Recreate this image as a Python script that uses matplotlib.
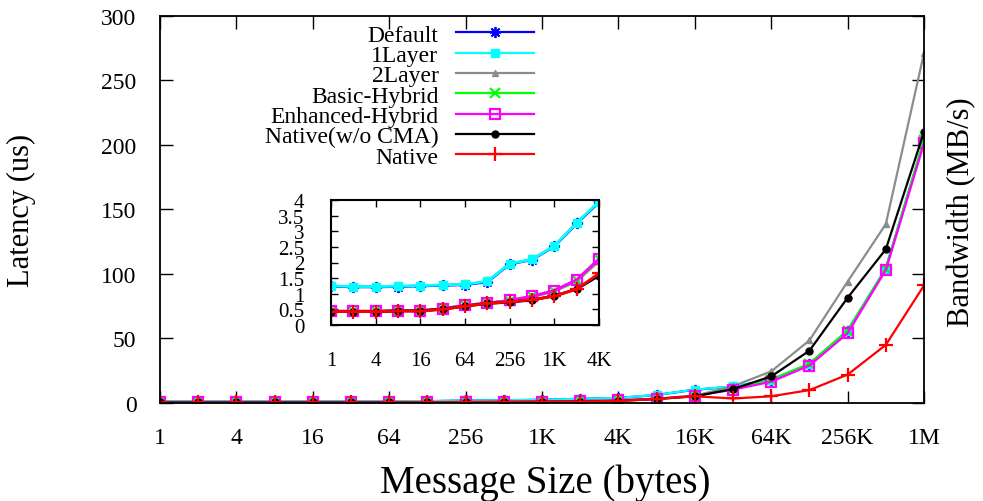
import matplotlib
matplotlib.use('Agg')
import matplotlib.pyplot as plt

plt.rcParams['font.family'] = ['Liberation Serif', 'DejaVu Serif']

# ---- data ----
sizes = [1, 2, 4, 8, 16, 32, 64, 128, 256, 512, 1024, 2048, 4096, 8192,
         16384, 32768, 65536, 131072, 262144, 524288, 1048576]
tick_vals = [1, 4, 16, 64, 256, 1024, 4096, 16384, 65536, 262144, 1048576]
tick_labels = ['1', '4', '16', '64', '256', '1K', '4K', '16K', '64K', '256K', '1M']
inset_tick_vals = [1, 4, 16, 64, 256, 1024, 4096]
inset_tick_labels = ['1', '4', '16', '64', '256', '1K', '4K']
inset_yticks = [0, 0.5, 1, 1.5, 2, 2.5, 3, 3.5, 4]
inset_ylabels = ['0', '0.5', '1', '1.5', '2', '2.5', '3', '3.5', '4']

default = [1.24, 1.22, 1.22, 1.23, 1.25, 1.27, 1.29, 1.38, 1.95, 2.09, 2.52, 3.25, 3.93,
           6.2, 10.3, 12.6, 18.0, 30.0, 56.0, 104.0, 203.0]
layer1 = [1.25, 1.23, 1.23, 1.24, 1.26, 1.28, 1.30, 1.40, 1.96, 2.10, 2.53, 3.27, 3.95,
          6.3, 10.4, 12.8, 18.2, 30.2, 56.0, 104.0, 204.0]
layer2 = [0.44, 0.44, 0.44, 0.46, 0.46, 0.52, 0.62, 0.70, 0.77, 0.90, 1.08, 1.40, 2.05,
          3.3, 5.6, 13.0, 24.5, 48.5, 94.0, 138.5, 271.0]
basic = [0.44, 0.44, 0.44, 0.46, 0.46, 0.52, 0.63, 0.70, 0.78, 0.92, 1.10, 1.44, 2.10,
         3.3, 5.6, 10.8, 18.0, 30.5, 56.0, 104.0, 204.0]
enhanced = [0.44, 0.44, 0.44, 0.46, 0.46, 0.52, 0.63, 0.70, 0.79, 0.92, 1.10, 1.45, 2.11,
            3.3, 5.5, 10.3, 16.5, 29.0, 54.0, 103.0, 201.0]
native_nocma = [0.43, 0.43, 0.43, 0.45, 0.45, 0.51, 0.60, 0.69, 0.73, 0.80, 0.93, 1.15, 1.58,
                3.1, 5.2, 10.8, 20.6, 40.5, 81.5, 119.0, 210.0]
native = [0.43, 0.43, 0.43, 0.45, 0.44, 0.50, 0.60, 0.69, 0.74, 0.81, 0.92, 1.15, 1.65,
          3.1, 5.2, 3.5, 5.2, 10.0, 22.0, 45.0, 91.0]

series = [
    ('Default', default, dict(color='#0000ff', marker=(8, 2, 0), ms=8, mew=1.3)),
    ('1Layer', layer1, dict(color='#00ffff', marker='s', ms=6, mew=1.0)),
    ('2Layer', layer2, dict(color='#8c8c8c', marker='^', ms=5, mew=1.0)),
    ('Basic-Hybrid', basic, dict(color='#00ff00', marker='x', ms=7, mew=1.6)),
    ('Enhanced-Hybrid', enhanced, dict(color='#ff00ff', marker='s', ms=7, mew=1.6, mfc='none')),
    ('Native(w/o CMA)', native_nocma, dict(color='#000000', marker='o', ms=5, mew=1.0)),
    ('Native', native, dict(color='#ff0000', marker='+', ms=10, mew=1.6)),
]

fig = plt.figure(figsize=(9.83, 5.02), dpi=100)
ax = fig.add_axes([0.1628, 0.1952, 0.7772, 0.7719])

for name, vals, st in series:
    ax.plot(sizes, vals, label=name, lw=1.6, **st)

ax.set_xscale('log', base=2)
ax.set_xlim(1, 1048576)
ax.set_ylim(0, 300)
ax.set_xticks(tick_vals)
ax.set_xticklabels(tick_labels)
ax.minorticks_off()
ax.set_yticks([0, 50, 100, 150, 200, 250, 300])
ax.tick_params(direction='in', top=True, right=True, length=9, width=1.0,
               labelsize=17, pad=17)
for s in ax.spines.values():
    s.set_linewidth(1.3)

leg = ax.legend(loc='upper right', bbox_to_anchor=(0.4895, 0.978), frameon=False,
                markerfirst=False, fontsize=17, handlelength=3.3, handletextpad=0.75,
                labelspacing=-0.05, borderpad=0, borderaxespad=0, numpoints=1)

fig.text(21 / 983, 1 - 210 / 502, 'Latency (us)', rotation=90, ha='center',
         va='center', fontsize=22)
fig.text(962 / 983, 1 - 212 / 502, 'Bandwidth (MB/s)', rotation=90, ha='center',
         va='center', fontsize=22)
fig.text(545 / 983, 1 - 483 / 502, 'Message Size (bytes)', ha='center',
         va='center', fontsize=28)

# ---- inset ----
n_in = 13
axin = fig.add_axes([331 / 983, 1 - 326 / 502, (599 - 331) / 983, (326 - 201) / 502])
for name, vals, st in series:
    axin.plot(sizes[:n_in], vals[:n_in], lw=2.0, **st)
axin.set_xscale('log', base=2)
axin.set_xlim(1, 4096)
axin.set_ylim(0, 4)
axin.set_xticks(inset_tick_vals)
axin.set_xticklabels(inset_tick_labels)
axin.minorticks_off()
axin.set_yticks(inset_yticks)
axin.set_yticklabels(inset_ylabels)
axin.tick_params(axis='both', direction='in', top=True, right=True, length=5, width=1.0,
                 labelsize=15)
axin.tick_params(axis='x', pad=19)
axin.tick_params(axis='y', pad=19)
for s in axin.spines.values():
    s.set_linewidth(1.5)

fig.savefig('out.png', dpi=100)
